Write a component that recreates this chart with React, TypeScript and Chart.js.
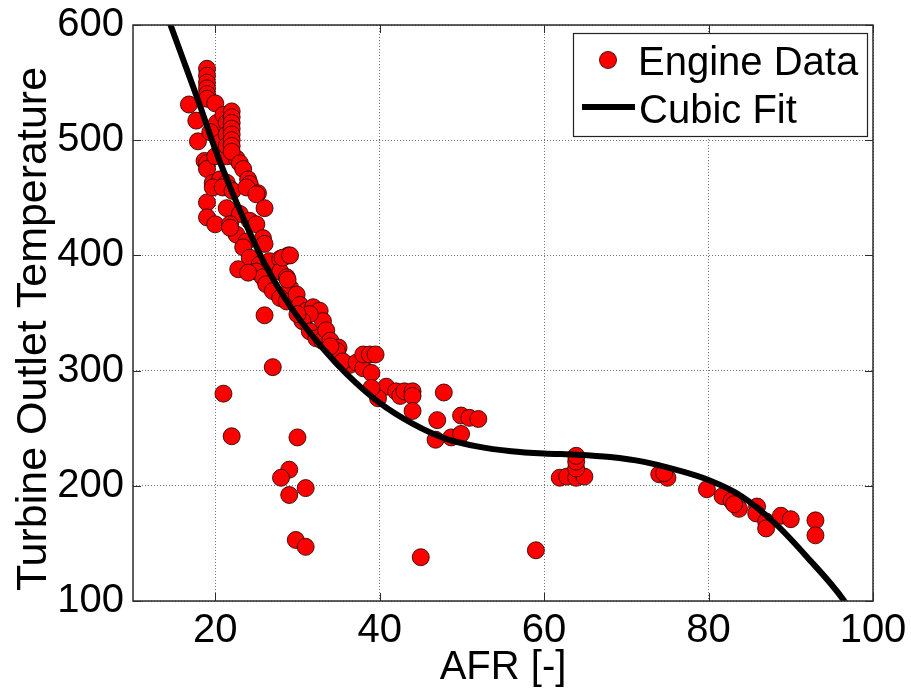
import { useEffect, useRef } from "react";
import { Chart, registerables } from "chart.js";

Chart.register(...registerables);

// ---- data ----
const engineAfr = [
  16.8, 17.7, 17.9, 19, 19, 19, 19, 19, 19, 20, 18.7, 19, 19, 19.7, 19, 19, 20,
  20.2, 19.4, 20.6, 20, 21.4, 22.6, 21, 21.4, 21.4, 21.4, 22, 22, 22, 22, 22, 22,
  22, 22, 23, 23.4, 24, 24.2, 25.2, 20.6, 21.4, 21.8, 19.7, 20.9, 22.1, 23.8, 25,
  26, 21.4, 23, 24.2, 25, 21.8, 22.6, 23.8, 25.8, 26, 23.4, 24.2, 25.4, 25, 26.6,
  27.9, 28.9, 27.9, 28.7, 29.1, 25.8, 22.8, 24, 26.2, 27, 27.9, 28.7, 29.9, 30.3,
  31.1, 31.9, 32.7, 33.1, 30.7, 31.5, 30.6, 30, 31.5, 32.3, 33, 33.5, 34, 35, 34.8,
  34, 36.4, 35.5, 37.2, 38, 39, 38, 38.8, 39.5, 40.8, 39.8, 39, 42, 42.5, 43, 44,
  44, 44, 47.8, 47, 46.8, 48.7, 49.9, 49.9, 50.9, 52, 21.8, 28.2, 29.1, 28.8,
  26, 27, 21, 22, 30, 29, 28, 29, 31, 29.8, 31, 45, 59,
  61.9, 62.8, 63.9, 64.9, 63.9, 63.9, 63.9, 74, 75, 74.6, 79.8, 81.7, 82.8, 83.7,
  83.1, 85.9, 85.8, 87, 87, 88.8, 90, 93, 93,
];
const engineTemp = [
  531, 517, 499, 562, 556, 550, 545, 540, 536, 532, 482, 480, 475, 463, 446, 433, 427,
  515, 507, 498, 486, 486, 484, 522, 515, 505, 495, 525, 520, 515, 510, 505, 500,
  495, 490, 480, 475, 466, 462, 454, 466, 463, 458, 459, 459, 456, 459, 453,
  441, 441, 436, 430, 427, 427, 418, 412, 415, 410, 407, 398, 392, 386, 395,
  397, 400, 386, 381, 372, 381, 388, 385, 375, 369, 363, 360, 366, 357,
  352, 355, 352, 343, 343, 349, 343, 349, 334, 328, 326, 335, 326, 320, 317,
  321, 305, 308, 307, 302, 298, 314, 314, 314, 286, 276, 285, 282, 278, 282, 282,
  278, 265, 281, 257, 240, 242, 245, 261, 259, 258, 424, 398, 400, 379,
  348, 303, 280, 243, 242, 214, 207, 192, 198, 153, 147, 138, 144,
  207, 208, 207, 208, 215, 221, 226, 210, 207, 211, 197, 191, 187, 180,
  184, 182, 176, 169, 163, 174, 171, 170, 157,
];
const fitAfr = [14, 16, 18, 20, 22, 24, 26, 28, 30, 33, 36, 40, 44, 48, 52, 56, 60, 64, 68, 72, 76, 80, 84, 88, 92, 96.5, 97];
const fitTemp = [611, 572, 533, 492, 456, 423, 393, 368, 347, 320, 297, 272, 254, 241, 234, 230, 228, 227, 225, 221, 214, 205, 191, 168, 138, 100, 94];

const xTicks = [20, 40, 60, 80, 100];
const yTicks = [100, 200, 300, 400, 500, 600];
const xTitle = "AFR [-]";
const yTitle = "Turbine Outlet Temperature";
const seriesNames = ["Engine Data", "Cubic Fit"];

const FONT = "'Liberation Sans', Arial, Helvetica, sans-serif";

const framePlugin = {
  id: "frame",
  afterDatasetsDraw(chart: any) {
    const { ctx, chartArea: a, scales } = chart;
    ctx.save();
    ctx.strokeStyle = "#2b2b2b";
    ctx.lineWidth = 1.5;
    ctx.setLineDash([]);
    ctx.strokeRect(a.left, a.top, a.right - a.left, a.bottom - a.top);
    ctx.lineWidth = 1;
    const tl = 8;
    ctx.beginPath();
    for (const v of xTicks) {
      const px = Math.round(scales.x.getPixelForValue(v)) + 0.5;
      ctx.moveTo(px, a.bottom);
      ctx.lineTo(px, a.bottom - tl);
      ctx.moveTo(px, a.top);
      ctx.lineTo(px, a.top + tl);
    }
    for (const v of yTicks) {
      const py = Math.round(scales.y.getPixelForValue(v)) + 0.5;
      ctx.moveTo(a.left, py);
      ctx.lineTo(a.left + tl, py);
      ctx.moveTo(a.right, py);
      ctx.lineTo(a.right - tl, py);
    }
    ctx.stroke();
    ctx.restore();
  },
};

const yTitlePlugin = {
  id: "yTitle",
  afterDraw(chart: any) {
    const { ctx } = chart;
    ctx.save();
    ctx.translate(46, 329);
    ctx.rotate(-Math.PI / 2);
    ctx.font = `43px ${FONT}`;
    ctx.fillStyle = "#000";
    ctx.textAlign = "center";
    ctx.textBaseline = "alphabetic";
    ctx.fillText(yTitle, 0, 0);
    ctx.restore();
  },
};

const legendPlugin = {
  id: "boxLegend",
  afterDraw(chart: any) {
    const { ctx, chartArea: a } = chart;
    const left = a.right - 300;
    const top = a.top + 8;
    const w = 294;
    const h = 103;
    ctx.save();
    ctx.fillStyle = "#fff";
    ctx.fillRect(left, top, w, h);
    ctx.strokeStyle = "#222";
    ctx.lineWidth = 1.2;
    ctx.setLineDash([]);
    ctx.strokeRect(left + 0.5, top + 0.5, w, h);
    // marker
    ctx.beginPath();
    ctx.arc(left + 35, top + 27, 8.5, 0, Math.PI * 2);
    ctx.fillStyle = "#ff0000";
    ctx.fill();
    ctx.strokeStyle = "rgba(40,0,0,0.85)";
    ctx.lineWidth = 1;
    ctx.stroke();
    // line sample
    ctx.beginPath();
    ctx.moveTo(left + 9, top + 74);
    ctx.lineTo(left + 62, top + 74);
    ctx.strokeStyle = "#000";
    ctx.lineWidth = 6;
    ctx.stroke();
    // texts
    ctx.fillStyle = "#000";
    ctx.font = `40px ${FONT}`;
    ctx.textBaseline = "alphabetic";
    ctx.textAlign = "left";
    ctx.fillText(seriesNames[0], left + 65, top + 42);
    ctx.fillText(seriesNames[1], left + 66, top + 90);
    ctx.restore();
  },
};

export default function App() {
  const ref = useRef<HTMLCanvasElement>(null);
  useEffect(() => {
    const canvas = ref.current!;
    const chart = new Chart(canvas, {
      type: "scatter",
      data: {
        datasets: [
          {
            type: "line",
            label: seriesNames[1],
            data: fitAfr.map((x, i) => ({ x, y: fitTemp[i] })),
            borderColor: "#000",
            backgroundColor: "#000",
            borderWidth: 6,
            pointRadius: 0,
            cubicInterpolationMode: "monotone",
            fill: false,
            clip: 0,
            order: 0,
          } as any,
          {
            type: "scatter",
            label: seriesNames[0],
            data: engineAfr.map((x, i) => ({ x, y: engineTemp[i] })),
            backgroundColor: "#ff0000",
            borderColor: "rgba(40,0,0,0.85)",
            borderWidth: 1,
            pointRadius: 8.5,
            order: 1,
          } as any,
        ],
      },
      options: {
        responsive: false,
        animation: false,
        events: [],
        layout: { padding: { top: 25, right: 38, left: 0, bottom: 0 } },
        plugins: { legend: { display: false }, tooltip: { enabled: false } },
        scales: {
          x: {
            type: "linear",
            min: 10,
            max: 100,
            afterBuildTicks: (s: any) => {
              s.ticks = xTicks.map((v) => ({ value: v }));
            },
            afterFit: (s: any) => {
              s.height = 89;
              s.paddingLeft = 0;
              s.paddingRight = 0;
            },
            grid: { color: "rgba(0,0,0,0.55)", lineWidth: 1, drawTicks: false },
            border: { display: false, dash: [1, 2] },
            ticks: {
              color: "#000",
              font: { family: FONT, size: 40 },
              padding: 6,
              maxRotation: 0,
              autoSkip: false,
            },
            title: {
              display: true,
              text: xTitle,
              color: "#000",
              font: { family: FONT, size: 40, lineHeight: 1 },
              padding: { top: 0, bottom: 2 },
            },
          },
          y: {
            type: "linear",
            min: 100,
            max: 600,
            afterBuildTicks: (s: any) => {
              s.ticks = yTicks.map((v) => ({ value: v }));
            },
            afterFit: (s: any) => {
              s.width = 133;
              s.paddingTop = 0;
              s.paddingBottom = 0;
            },
            grid: { color: "rgba(0,0,0,0.55)", lineWidth: 1, drawTicks: false },
            border: { display: false, dash: [1, 2] },
            ticks: {
              color: "#000",
              font: { family: FONT, size: 40 },
              padding: 9,
              autoSkip: false,
            },
            title: { display: false },
          },
        },
      },
      plugins: [framePlugin, yTitlePlugin, legendPlugin],
    });
    return () => chart.destroy();
  }, []);
  return (
    <div style={{ position: "fixed", left: 0, top: 0, width: 911, height: 690, background: "#fff" }}>
      <canvas ref={ref} width={911} height={690} style={{ display: "block", width: 911, height: 690 }} />
    </div>
  );
}
